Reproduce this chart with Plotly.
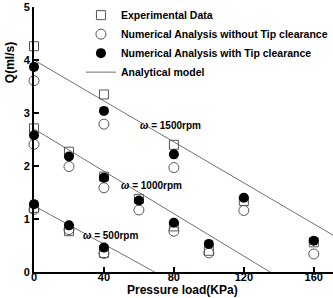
import plotly.graph_objects as go

# ---- data ----
p_1500 = [0, 40, 80, 120, 160]
exp_1500 = [4.26, 3.35, 2.40, 1.34, 0.56]
notip_1500 = [3.61, 2.79, 1.97, 1.16, 0.34]
tip_1500 = [3.87, 3.04, 2.22, 1.40, 0.59]

p_1000 = [0, 20, 40, 60, 80, 100]
exp_1000 = [2.71, 2.27, 1.80, 1.38, 0.86, 0.40]
notip_1000 = [2.41, 1.99, 1.59, 1.17, 0.77, 0.36]
tip_1000 = [2.58, 2.18, 1.78, 1.35, 0.93, 0.53]

p_500 = [0, 20, 40]
exp_500 = [1.21, 0.77, 0.36]
notip_500 = [1.18, 0.80, 0.35]
tip_500 = [1.28, 0.88, 0.46]

# analytical model: flow at zero load and load at zero flow
speeds = ["1500rpm", "1000rpm", "500rpm"]
analytic_q0 = [4.0, 2.70, 1.25]
analytic_pmax = [207, 135, 69]

x_ticks = [0, 40, 80, 120, 160]
y_ticks = [0, 1, 2, 3, 4, 5]

# label positions for the speed annotations (data coords)
label_x = [78, 67, 44]
label_y = [2.77, 1.63, 0.68]

FONT = "Liberation Sans, Arial, sans-serif"
LINE_C = "#707070"

fig = go.Figure()

# analytical lines
for i, (q0, pm) in enumerate(zip(analytic_q0, analytic_pmax)):
    fig.add_trace(go.Scatter(
        x=[0, pm], y=[q0, 0], mode="lines",
        line=dict(color=LINE_C, width=1),
        name="Analytical model", legendgroup="ana",
        showlegend=(i == 0), legendrank=4, cliponaxis=True))

px_all = [p_1500, p_1000, p_500]
exp_all = [exp_1500, exp_1000, exp_500]
notip_all = [notip_1500, notip_1000, notip_500]
tip_all = [tip_1500, tip_1000, tip_500]

for i in range(3):
    fig.add_trace(go.Scatter(
        x=px_all[i], y=exp_all[i], mode="markers",
        marker=dict(symbol="square-open", size=9, color="#555555",
                    line=dict(width=1)),
        name="Experimental Data", legendgroup="exp",
        showlegend=(i == 0), legendrank=1, cliponaxis=False))
for i in range(3):
    fig.add_trace(go.Scatter(
        x=px_all[i], y=notip_all[i], mode="markers",
        marker=dict(symbol="circle-open", size=10, color="#555555",
                    line=dict(width=1)),
        name="Numerical Analysis without Tip clearance", legendgroup="no",
        showlegend=(i == 0), legendrank=2, cliponaxis=False))
for i in range(3):
    fig.add_trace(go.Scatter(
        x=px_all[i], y=tip_all[i], mode="markers",
        marker=dict(symbol="circle", size=10, color="black",
                    line=dict(width=0)),
        name="Numerical Analysis with Tip clearance", legendgroup="tip",
        showlegend=(i == 0), legendrank=3, cliponaxis=False))

for sp, lx, ly in zip(speeds, label_x, label_y):
    fig.add_annotation(x=lx, y=ly, xref="x", yref="y",
                       text="<i>ω</i> = " + sp, showarrow=False,
                       font=dict(family=FONT, size=10, color="black", weight="bold"))

# axis titles
fig.add_annotation(x=0.495, y=-0.068, xref="paper", yref="paper",
                   xanchor="center", yanchor="middle",
                   text="Pressure load(KPa)", showarrow=False,
                   font=dict(family=FONT, size=12, color="black", weight="bold"))
fig.add_annotation(x=-0.082, y=0.79, xref="paper", yref="paper",
                   xanchor="center", yanchor="middle", textangle=-90,
                   text="Q(ml/s)", showarrow=False,
                   font=dict(family=FONT, size=12, color="black", weight="bold"))

fig.update_layout(
    width=333, height=298,
    margin=dict(l=34, r=0, t=7, b=26),
    paper_bgcolor="white", plot_bgcolor="white",
    font=dict(family=FONT, color="black"),
    legend=dict(x=0.157, y=1.024, xanchor="left", yanchor="top",
                bgcolor="rgba(0,0,0,0)", tracegroupgap=0,
                font=dict(family=FONT, size=10.5, color="black", weight="bold"),
                itemwidth=30),
    xaxis=dict(range=[0, 171], tickvals=x_ticks, ticks="inside", ticklen=5,
               tickwidth=1.5, tickcolor="black", showline=True, linecolor="black",
               linewidth=2, showgrid=False, zeroline=False, ticklabelstandoff=-6,
               tickfont=dict(family=FONT, size=11, color="black", weight="bold")),
    yaxis=dict(range=[0, 5], tickvals=y_ticks, ticks="inside", ticklen=5,
               tickwidth=1.5, tickcolor="black", showline=True, linecolor="black",
               linewidth=2, showgrid=False, zeroline=False,
               tickfont=dict(family=FONT, size=11, color="black", weight="bold")),
)

fig.write_html("out.html")
